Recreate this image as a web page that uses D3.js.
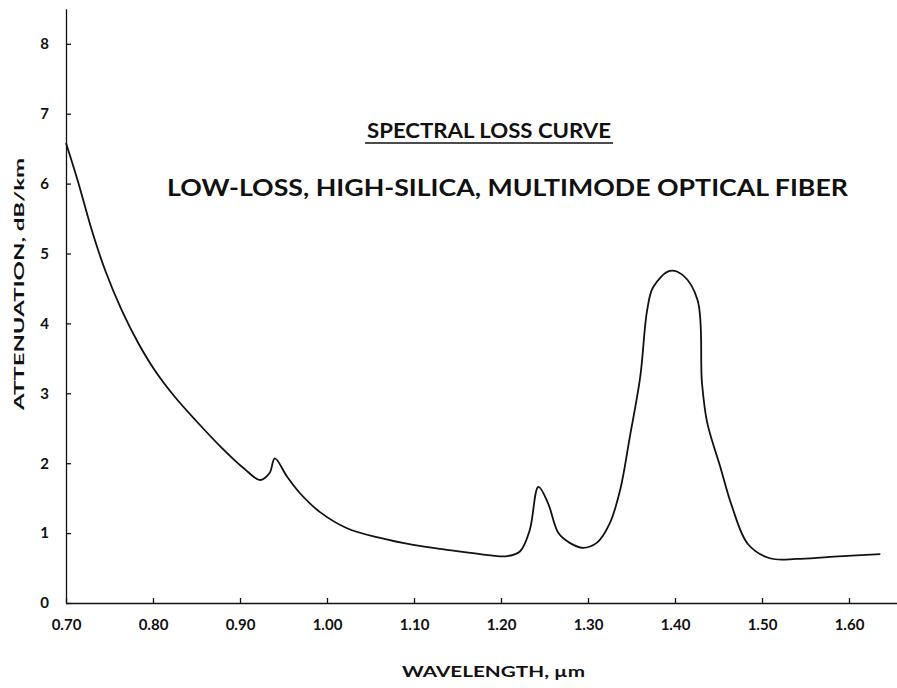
<!DOCTYPE html>
<html>
<head>
<meta charset="utf-8">
<script src="https://cdn.jsdelivr.net/npm/d3@7"></script>
<style>
  body { margin: 0; background: #fff; }
  text { font-family: Lato, "DejaVu Sans", sans-serif; font-weight: bold; fill: #111; }
</style>
</head>
<body>
<script>
// wavelength (um) and attenuation (dB/km)
const wavelength = [0.700, 0.714, 0.7295, 0.745, 0.764, 0.783, 0.802, 0.825, 0.850, 0.879, 0.905, 0.923, 0.934, 0.940,
    0.954, 0.969, 0.992, 1.023, 1.061, 1.099, 1.138, 1.176, 1.207, 1.222, 1.233, 1.243, 1.254,
    1.266, 1.279, 1.294, 1.310, 1.325, 1.337, 1.348, 1.360, 1.368, 1.375, 1.394, 1.409, 1.426,
    1.431, 1.437, 1.452, 1.465, 1.484, 1.509, 1.540, 1.578, 1.636];
const attenuation = [6.58, 6.02, 5.34, 4.76, 4.19, 3.72, 3.33, 2.95, 2.60, 2.22, 1.92, 1.76, 1.86, 2.07,
    1.81, 1.57, 1.30, 1.07, 0.93, 0.83, 0.76, 0.70, 0.67, 0.74, 1.04, 1.66, 1.43,
    1.00, 0.86, 0.79, 0.86, 1.14, 1.62, 2.37, 3.23, 4.19, 4.52, 4.75, 4.69, 4.33,
    3.15, 2.58, 1.95, 1.40, 0.84, 0.64, 0.63, 0.66, 0.70];
const xTicks = [0.70, 0.80, 0.90, 1.00, 1.10, 1.20, 1.30, 1.40, 1.50, 1.60];
const yTicks = [0, 1, 2, 3, 4, 5, 6, 7, 8];

const title = 'SPECTRAL LOSS CURVE';
const subtitle = 'LOW-LOSS, HIGH-SILICA, MULTIMODE OPTICAL FIBER';

function makeChart(svg) {
    const x = d3.scaleLinear().domain([0.70, 1.66]).range([66, 66 + 870 * 0.96]);
    const y = d3.scaleLinear().domain([0, 8.5]).range([603, 603 - 69.9 * 8.5]);

    const xAxis = d3.axisBottom(x)
        .tickValues(xTicks)
        .tickFormat(d3.format('.2f'))
        .tickSizeInner(-5)
        .tickSizeOuter(0)
        .tickPadding(16);
    svg.append('g')
        .attr('transform', `translate(0,${y(0)})`)
        .call(xAxis)
        .call(g => g.selectAll('text').style('font-size', '15px'));

    const yAxis = d3.axisLeft(y)
        .tickValues(yTicks)
        .tickSizeInner(-5)
        .tickSizeOuter(0)
        .tickPadding(17);
    svg.append('g')
        .attr('transform', `translate(${x(0.70)},0)`)
        .call(yAxis)
        .call(g => g.selectAll('text').style('font-size', '15px'));

    svg.selectAll('.domain, .tick line').attr('stroke', '#111').attr('stroke-width', 1.3);

    const line = d3.line()
        .x((d, i) => x(wavelength[i]))
        .y(d => y(d))
        .curve(d3.curveCatmullRom.alpha(0.5));

    svg.append('path')
        .datum(attenuation)
        .attr('fill', 'none')
        .attr('stroke', '#111')
        .attr('stroke-width', 1.8)
        .attr('d', line);

    // titles
    svg.append('text')
        .attrs({x: 367, y: 138, textLength: 244, lengthAdjust: 'spacingAndGlyphs'})
        .style('font-size', '21px')
        .text(title);
    svg.append('line')
        .attrs({x1: 365, x2: 613, y1: 143, y2: 143, stroke: '#111', 'stroke-width': 1.5});
    svg.append('text')
        .attrs({x: 167, y: 196, textLength: 681, lengthAdjust: 'spacingAndGlyphs'})
        .style('font-size', '22px')
        .text(subtitle);

    svg.append('text')
        .attrs({x: 402, y: 677, textLength: 183, lengthAdjust: 'spacingAndGlyphs'})
        .style('font-size', '15px')
        .text('WAVELENGTH, µm');

    svg.append('text')
        .attrs({transform: 'translate(24,410) rotate(-90)', x: 0, y: 0, textLength: 252, lengthAdjust: 'spacingAndGlyphs'})
        .style('font-size', '14px')
        .text('ATTENUATION, dB/km');
}

function main() {
    d3.selection.prototype.attrs = function(o) {
        Object.entries(o).forEach(([k, v]) => this.attr(k, v));
        return this;
    };
    const svg = d3.select('body')
        .append('svg')
        .attr('width', 897)
        .attr('height', 688);
    makeChart(svg);
}

main();
</script>
</body>
</html>
